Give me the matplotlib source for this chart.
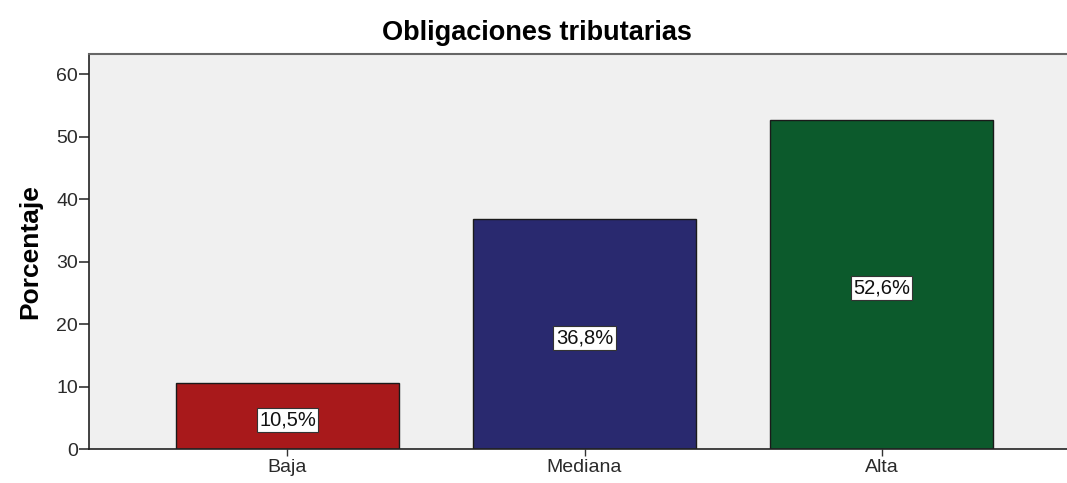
import matplotlib
matplotlib.use("Agg")
from matplotlib import pyplot as plt

# chart data
categories = ["Baja", "Mediana", "Alta"]
percentages = [10.5, 36.8, 52.6]
labels = ["10,5%", "36,8%", "52,6%"]
bar_colors = ["#a8191b", "#29296f", "#0c5a2c"]
y_ticks = [0, 10, 20, 30, 40, 50, 60]

plt.rcParams['font.family'] = ['Liberation Sans', 'DejaVu Sans']

fig = plt.figure(figsize=(10.67, 4.83), dpi=100)
# right edge runs past the figure, as in the cropped original
ax = fig.add_axes([89 / 1067, 1 - 449 / 483, (1080 - 89) / 1067, (449 - 54) / 483])
ax.set_facecolor("#f0f0f0")

x = range(len(categories))
ax.bar(x, percentages, width=0.75, color=bar_colors, edgecolor="#1a1a1a", linewidth=1)

for i, val in enumerate(percentages):
    ax.text(i, val / 2 - 0.6, labels[i], ha="center", va="center", fontsize=14.5, color="#111111",
            bbox=dict(boxstyle="square,pad=0.12", facecolor="white", edgecolor="#333333", linewidth=0.8))

ax.set_xlim(-0.668, 2.668)
ax.set_ylim(0, 63.2)
ax.set_xticks(list(x))
ax.set_xticklabels(categories, fontsize=14)
ax.set_yticks(y_ticks)
ax.tick_params(axis="y", labelsize=14, length=7, width=1.2, colors="#333333", pad=1)
ax.tick_params(axis="x", length=5, width=1, colors="#333333", pad=2)
for lbl in ax.get_xticklabels() + ax.get_yticklabels():
    lbl.set_color("#2a2a2a")

for side in ["left", "bottom"]:
    ax.spines[side].set_linewidth(1.2)
    ax.spines[side].set_color("#222222")
for side in ["top", "right"]:
    ax.spines[side].set_linewidth(1.5)
    ax.spines[side].set_color("#666666")

ax.set_ylabel("Porcentaje", fontsize=19, fontweight="bold", labelpad=10)
fig.text(537 / 1067, 1 - 33 / 483, "Obligaciones tributarias", ha="center", va="center",
         fontsize=19.5, fontweight="bold")

fig.savefig("out.png", dpi=100)
